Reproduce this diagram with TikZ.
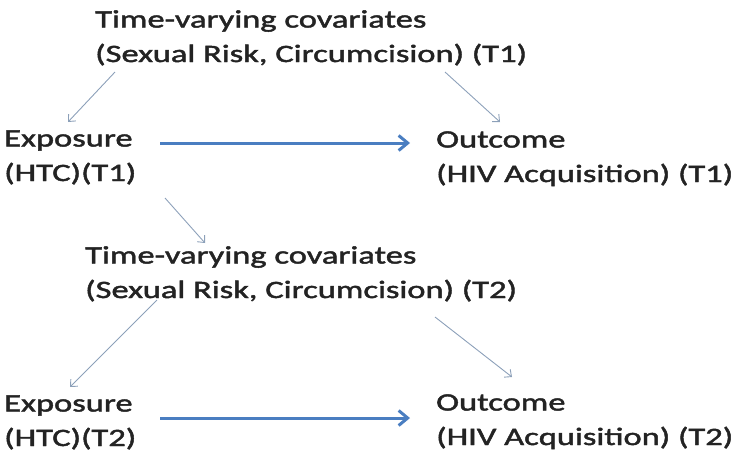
\documentclass[tikz,border=0pt]{standalone}
\usepackage{fontspec}
\setmainfont{Carlito}[FakeStretch=1.38,FakeBold=1.8]
\usetikzlibrary{arrows.meta,positioning,calc}
\definecolor{textgray}{RGB}{35,35,35}
\definecolor{linkgray}{RGB}{140,160,185}
\definecolor{mainblue}{RGB}{74,126,193}
\tikzset{
  label text/.style={anchor=base west,inner sep=0pt,align=left,text=textgray,
    font=\fontsize{25}{34.5}\selectfont},
  link/.style={-{Straight Barb[length=5.5pt,width=10pt]},line width=0.9pt,draw=linkgray},
  effect/.style={-{Straight Barb[length=9pt,width=15pt]},line width=3pt,draw=mainblue}
}
\begin{document}
\begin{tikzpicture}[x=1pt,y=-1pt]
  \useasboundingbox (0,0) rectangle (733,458);
  \node[label text] (cov1) at (95,62) {Time-varying covariates\\(Sexual Risk, Circumcision) (T1)};
  \node[label text] (exp1) at (4,181) {Exposure\\(HTC)(T1)};
  \node[label text] (out1) at (436,182) {Outcome\\(HIV Acquisition) (T1)};
  \node[label text] (cov2) at (85,298) {Time-varying covariates\\(Sexual Risk, Circumcision) (T2)};
  \node[label text] (exp2) at (4,446) {Exposure\\(HTC)(T2)};
  \node[label text] (out2) at (436,445) {Outcome\\(HIV Acquisition) (T2)};
  % time point 1
  \draw[link] ($(cov1.base west)+(20,10)$) -- ($(exp1.base west)+(64,-59)$);
  \draw[link] ($(cov1.base west)+(350,10)$) -- ($(out1.base west)+(64,-60)$);
  \draw[effect] ($(exp1.base west)+(156,-38)$) -- ($(out1.base west)+(-26,-39)$);
  % time point 2
  \draw[link] ($(exp1.base west)+(161,17)$) -- ($(cov2.base west)+(120,-55)$);
  \draw[link] ($(cov2.base west)+(72,2)$) -- ($(exp2.base west)+(66,-59)$);
  \draw[link] ($(cov2.base west)+(350,19)$) -- ($(out2.base west)+(76,-68)$);
  \draw[effect] ($(exp2.base west)+(156,-28)$) -- ($(out2.base west)+(-26,-27)$);
\end{tikzpicture}
\end{document}
